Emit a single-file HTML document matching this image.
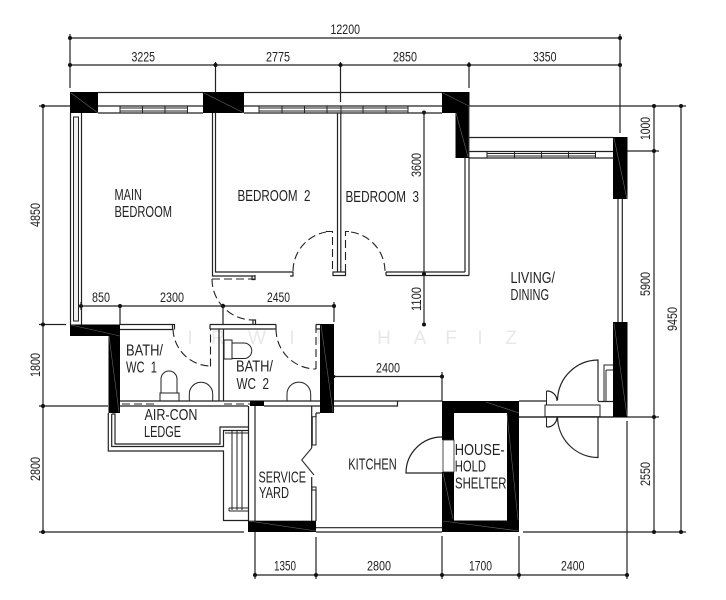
<!DOCTYPE html>
<html lang="en">
<head>
<meta charset="utf-8">
<title>Floor plan</title>
<style>
html,body{margin:0;padding:0;background:#fff;width:726px;height:600px;overflow:hidden}
svg{display:block;filter:blur(.3px)}
text{font-family:"Liberation Sans",sans-serif;fill:#222}
.r{font-size:15.5px}
.d{font-size:13.5px}
.l{fill:none;stroke:#222;stroke-width:1.2}
.t{fill:none;stroke:#222;stroke-width:1}
.h{fill:none;stroke:#222;stroke-width:1.1;stroke-dasharray:8 4}
.b{fill:#000;stroke:none}
.s{fill:none;stroke:#666;stroke-width:.6}
.w{font-size:19px;fill:#e8e8e8;text-anchor:middle}
</style>
</head>
<body>
<svg xmlns="http://www.w3.org/2000/svg" width="726" height="600" viewBox="0 0 726 600">
<rect width="726" height="600" fill="#fff"/>

<!-- watermark -->
<text class="w" y="344" x="190 218 257 292 323 384 420 451 480 511">IRWINHAFIZ</text>

<!-- dimension lines -->
<path class="l" d="M70 38H620M70 65H620M70 34V88M215.5 62V92M340.5 62V102M469 62V88M620 34V133
M43 106V532M39 106H70M39 324.5H66M39 406H108M39 532H244
M469 106H686M654 106V532M681 106V532M627 151H659M519 417H659M523 532H686
M255 575H627M255 532V579M316 537V579M442 536V579M519 536V579M627 421V579
M424 112V324.5M81 306H334M120 306V325M223 306V325M334 302V322M81 302V310M334 376.5H442M442 372V401"/>
<g fill="#111">
<circle cx="70" cy="38" r="2"/><circle cx="620" cy="38" r="2"/>
<circle cx="70" cy="65" r="2"/><circle cx="215.5" cy="65" r="2"/><circle cx="340.5" cy="65" r="2"/><circle cx="469" cy="65" r="2"/><circle cx="620" cy="65" r="2"/>
<circle cx="43" cy="106" r="2"/><circle cx="43" cy="324.5" r="2"/><circle cx="43" cy="406" r="2"/><circle cx="43" cy="532" r="2"/>
<circle cx="654" cy="106" r="2"/><circle cx="681" cy="106" r="2"/><circle cx="654" cy="151" r="2"/><circle cx="654" cy="417" r="2"/><circle cx="654" cy="532" r="2"/><circle cx="681" cy="532" r="2"/>
<circle cx="255" cy="575" r="2"/><circle cx="316" cy="575" r="2"/><circle cx="442" cy="575" r="2"/><circle cx="519" cy="575" r="2"/><circle cx="627" cy="575" r="2"/>
<circle cx="424" cy="112.5" r="2"/><circle cx="424" cy="274" r="2"/><circle cx="424" cy="324.5" r="2"/>
<circle cx="81" cy="306" r="2"/><circle cx="120" cy="306" r="2"/><circle cx="223" cy="306" r="2.2"/><circle cx="334" cy="306" r="2"/>
<circle cx="442" cy="376.5" r="2"/><circle cx="334" cy="376.5" r="1.5"/>
</g>

<!-- top walls and windows -->
<path class="l" d="M98 92.5H203M244 92.5H442M98 106H203M244 106H442M98 113H203M244 113H442"/>
<path class="t" d="M120 108H187.5M120 111H187.5M120 106V113M142.5 106V113M165 106V113M187.5 106V113
M259 108H408M259 111H408M259 106V113M282 106V113M304.5 106V113M327 106V113M341 106V113M363 106V113M386 106V113M408 106V113"/>
<path class="l" d="M469 137.5H613M469 151.5H613M469 158H613"/>
<path class="t" d="M487 153.500H595.5M487 156H595.5M487 151V158M514.5 151V158M541.5 151V158M568.5 151V158M595.5 151V158"/>

<!-- left window wall -->
<path class="l" d="M70.5 113V325M81.5 113V325"/>
<rect x="73.5" y="117" width="5" height="204" fill="#f2f2f2" stroke="#222" stroke-width="1"/>

<!-- bedroom partitions -->
<path class="l" d="M212.5 113V276H255M215.5 113V272H293V276H290M337.5 113V272M340.8 113V272M333 272H345.5V275.5H333ZM252 276V279.5H255V275M386 272V275.5M386 272H465M386 275.5H469M465 158V272M469 158V275.5"/>
<!-- dashed doors -->
<path class="h" d="M212 279H255"/>
<path class="h" d="M212 279A41 41 0 0 0 253 320"/>
<path class="h" d="M293 271A40 40 0 0 1 326 232"/>
<path class="h" d="M326 231.5H332.5V272"/>
<path class="h" d="M345.5 272V231.5H351"/>
<path class="h" d="M351 232A40 40 0 0 1 385 271"/>

<!-- bath walls -->
<path class="l" d="M120 324.5H172.5V329.5H120M172.5 324.5H174.5V329.5M210 324.5H276M210 329H276M210 324.5V329M276 324.5V329M316 324.5H320M316 329H320M316 324.5V329M253 320H255.5V324.5H253Z
M219 329V401M223.5 329V401M120 401H320M120 406H248M264 406H320"/>
<path class="h" d="M122 404H154"/>
<path class="h" d="M224 404H250"/>
<path class="h" d="M173 329A38 38 0 0 0 210 366"/>
<path class="h" d="M210 366H210.5V329"/>
<path class="h" d="M276 329A40 40 0 0 0 316 369"/>
<path class="h" d="M316 369V329"/>
<rect class="b" x="250" y="401" width="14" height="5"/>

<!-- fixtures -->
<path class="t" d="M161 392.5V379A8 8 0 0 1 177 379V392.5M160 401V393H179V401M189.3 401V394A11.7 11.7 0 0 1 212.7 394V401
M224 340H232V359H224ZM232 343H244A7.5 7.5 0 0 1 244 358.5H232M287 401V394A11.8 11.8 0 0 1 310.7 394V401"/>

<!-- air-con ledge and service yard -->
<path class="l" d="M108.3 413V451H223.5V520.5H248M111.7 414H115V444H220V427H248M111.7 414V446.5H223.5V430.5H248"/>
<path class="t" d="M225 433H248M232 430V510M237 430V510M242 430V510M229 508H248M229 511H248M229 508V511"/>
<path class="l" d="M248.5 406V521M255 406V521M311.7 406V448M316 413H320M316 413V417M311.7 477V521M316 490V521"/>
<path class="t" d="M312.3 416.7H316V445H312.3ZM311.700 448L301.700 460L314 475M312 487H316V490H312Z"/>

<!-- kitchen -->
<path class="l" d="M334 401H442M334 406H397.5V401M316 527.7H442M316 532H442"/>
<path class="l" d="M442 437A36 36 0 0 0 406 473H443"/>

<!-- right side and entrance -->
<path class="l" d="M618 199V322M622.3 199V322M519 401H546M519 417H613"/>
<path class="t" d="M545 405H600V416.7H545ZM546.5 391V405M546.5 417V427"/>
<path class="l" d="M598 401V360A41 41 0 0 0 557.5 400M598 417V457.5A41 41 0 0 1 557.5 417M546.5 391A10 10 0 0 1 557 401M546.5 427A10 10 0 0 0 557 417M598 401.5H613"/>
<path class="t" d="M613 365H604V401M606 370H613M606 370V401"/>

<!-- solid black walls -->
<rect class="b" x="70" y="92" width="28" height="21"/>
<rect class="b" x="203" y="92" width="41" height="21"/>
<path class="b" d="M442 92H469.5V158H455.5V113H442Z"/>
<rect class="b" x="613" y="137" width="14.5" height="62"/>
<rect class="b" x="613" y="322" width="14.5" height="95"/>
<path class="b" d="M70 324.5H120V413H108.5V336H70Z"/>
<rect class="b" x="320" y="324" width="14" height="89"/>
<rect class="b" x="248" y="520.7" width="68" height="11.3"/>
<path class="b" fill-rule="evenodd" d="M442 401H519V532H442ZM454 413V440H442V472H454V520.5H507V413Z"/>
<rect x="443" y="440" width="11" height="32" fill="#fff" stroke="#222" stroke-width=".8"/>

<!-- faint hatch lines -->
<path class="s" d="M71 93L98 113M204 93L244 113M443 93L469 106L469 157M456 113L468 157M614 138L627 199M614 323L627 416M71 325L120 336M109 336L119 412M321 325L333 412M249 521L316 531M443 521L519 531M486 402L519 413M507 414L518 520M443 473L453 519"/>

<!-- room labels -->
<g class="r">
<text x="114.5" y="200" textLength="27.5" lengthAdjust="spacingAndGlyphs">MAIN</text>
<text x="114.5" y="217" textLength="57.5" lengthAdjust="spacingAndGlyphs">BEDROOM</text>
<text x="237.5" y="201" textLength="73" lengthAdjust="spacingAndGlyphs" xml:space="preserve">BEDROOM  2</text>
<text x="345.5" y="202" textLength="73.5" lengthAdjust="spacingAndGlyphs" xml:space="preserve">BEDROOM  3</text>
<text x="510.5" y="283" textLength="44.5" lengthAdjust="spacingAndGlyphs">LIVING/</text>
<text x="510.5" y="300" textLength="38.5" lengthAdjust="spacingAndGlyphs">DINING</text>
<text x="126" y="355.7" textLength="37" lengthAdjust="spacingAndGlyphs">BATH/</text>
<text x="126" y="372.7" textLength="31" lengthAdjust="spacingAndGlyphs" xml:space="preserve">WC  1</text>
<text x="236" y="371.7" textLength="37" lengthAdjust="spacingAndGlyphs">BATH/</text>
<text x="236.5" y="389" textLength="32.5" lengthAdjust="spacingAndGlyphs" xml:space="preserve">WC  2</text>
<text x="144.5" y="420" textLength="53" lengthAdjust="spacingAndGlyphs">AIR-CON</text>
<text x="144" y="437" textLength="37" lengthAdjust="spacingAndGlyphs">LEDGE</text>
<text x="258.5" y="482.3" textLength="47.5" lengthAdjust="spacingAndGlyphs">SERVICE</text>
<text x="259" y="498" textLength="30" lengthAdjust="spacingAndGlyphs">YARD</text>
<text x="348.3" y="469.3" textLength="48.4" lengthAdjust="spacingAndGlyphs">KITCHEN</text>
<text x="454.7" y="455" textLength="50" lengthAdjust="spacingAndGlyphs">HOUSE-</text>
<text x="454.7" y="471.7" textLength="31.3" lengthAdjust="spacingAndGlyphs">HOLD</text>
<text x="455" y="488.7" textLength="51.5" lengthAdjust="spacingAndGlyphs">SHELTER</text>
</g>

<!-- dimension labels -->
<g class="d">
<text x="330.5" y="34" textLength="29.5" lengthAdjust="spacingAndGlyphs">12200</text>
<text x="131.5" y="61.5" textLength="23.5" lengthAdjust="spacingAndGlyphs">3225</text>
<text x="266" y="61.5" textLength="24" lengthAdjust="spacingAndGlyphs">2775</text>
<text x="393" y="61.5" textLength="24" lengthAdjust="spacingAndGlyphs">2850</text>
<text x="533" y="61.5" textLength="23.5" lengthAdjust="spacingAndGlyphs">3350</text>
<text x="92" y="302" textLength="18" lengthAdjust="spacingAndGlyphs">850</text>
<text x="160" y="302" textLength="24" lengthAdjust="spacingAndGlyphs">2300</text>
<text x="267" y="302" textLength="23" lengthAdjust="spacingAndGlyphs">2450</text>
<text x="376" y="372.7" textLength="24" lengthAdjust="spacingAndGlyphs">2400</text>
<text x="274" y="570.7" textLength="22" lengthAdjust="spacingAndGlyphs">1350</text>
<text x="367" y="570.7" textLength="24" lengthAdjust="spacingAndGlyphs">2800</text>
<text x="469" y="570.7" textLength="23" lengthAdjust="spacingAndGlyphs">1700</text>
<text x="561" y="570.7" textLength="23.5" lengthAdjust="spacingAndGlyphs">2400</text>
<text transform="translate(40,227) rotate(-90)" textLength="24" lengthAdjust="spacingAndGlyphs">4850</text>
<text transform="translate(40,377) rotate(-90)" textLength="24" lengthAdjust="spacingAndGlyphs">1800</text>
<text transform="translate(40,481) rotate(-90)" textLength="24" lengthAdjust="spacingAndGlyphs">2800</text>
<text transform="translate(421,177) rotate(-90)" textLength="24" lengthAdjust="spacingAndGlyphs">3600</text>
<text transform="translate(421,311) rotate(-90)" textLength="24" lengthAdjust="spacingAndGlyphs">1100</text>
<text transform="translate(650,140) rotate(-90)" textLength="23" lengthAdjust="spacingAndGlyphs">1000</text>
<text transform="translate(650,296) rotate(-90)" textLength="24" lengthAdjust="spacingAndGlyphs">5900</text>
<text transform="translate(650,486) rotate(-90)" textLength="24" lengthAdjust="spacingAndGlyphs">2550</text>
<text transform="translate(677,331) rotate(-90)" textLength="24" lengthAdjust="spacingAndGlyphs">9450</text>
</g>
</svg>
</body>
</html>
